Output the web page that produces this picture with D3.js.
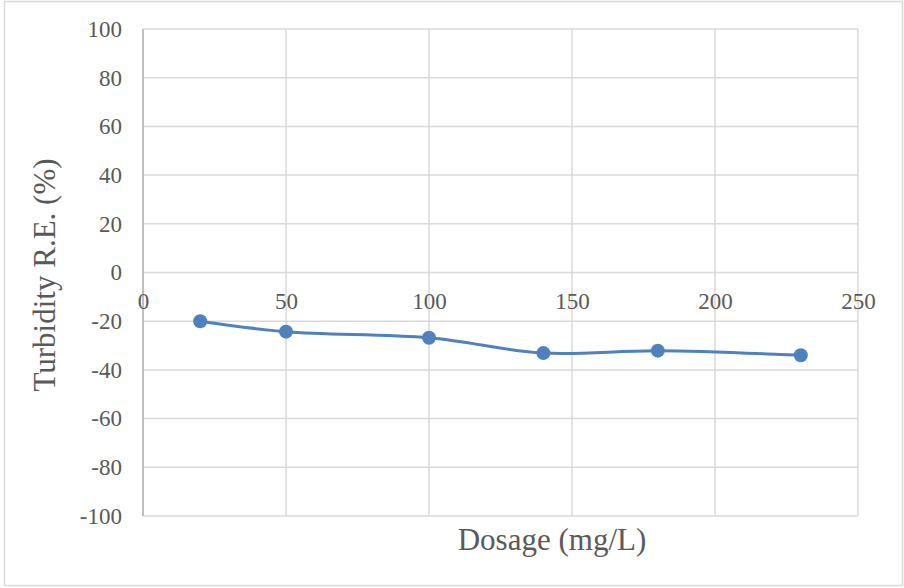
<!DOCTYPE html>
<html>
<head>
<meta charset="utf-8">
<script src="https://cdn.jsdelivr.net/npm/d3@7"></script>
<style>
  body { margin: 0; background: #fff; }
  text { font-family: "Liberation Serif", "DejaVu Serif", serif; fill: #595959; }
</style>
</head>
<body>
<script>
// Data
const dosage = [20, 50, 100, 140, 180, 230];
const removal = [-20, -24.3, -26.8, -33.1, -32.1, -34];
const xTicks = [0, 50, 100, 150, 200, 250];
const yTicks = [-100, -80, -60, -40, -20, 0, 20, 40, 60, 80, 100];

const W = 904, H = 588;
const margin = { top: 29, right: 46, bottom: 72, left: 143 };
const width = W - margin.left - margin.right;
const height = H - margin.top - margin.bottom;

const svg = d3.select("body")
    .append("svg")
    .attr("width", W)
    .attr("height", H);

// Outer chart border
svg.append("rect")
    .attr("x", 4.5)
    .attr("y", 1.5)
    .attr("width", W - 6)
    .attr("height", 584)
    .attr("fill", "#fff")
    .attr("stroke", "#d9d9d9")
    .attr("stroke-width", 1.5);

const g = svg.append("g")
    .attr("transform", `translate(${margin.left},${margin.top})`);

const x = d3.scaleLinear().domain([0, 250]).range([0, width]);
const y = d3.scaleLinear().domain([-100, 100]).range([height, 0]);

// Gridlines
g.append("g")
    .selectAll("line")
    .data(yTicks)
    .enter()
    .append("line")
    .attr("x1", 0)
    .attr("x2", width)
    .attr("y1", d => y(d))
    .attr("y2", d => y(d))
    .attr("stroke", "#d9d9d9")
    .attr("stroke-width", 1.5);

g.append("g")
    .selectAll("line")
    .data(xTicks.slice(1))
    .enter()
    .append("line")
    .attr("x1", d => x(d))
    .attr("x2", d => x(d))
    .attr("y1", 0)
    .attr("y2", height)
    .attr("stroke", "#d9d9d9")
    .attr("stroke-width", 1.5);

// Vertical axis line at x = 0
g.append("line")
    .attr("x1", x(0))
    .attr("x2", x(0))
    .attr("y1", 0)
    .attr("y2", height)
    .attr("stroke", "#bfbfbf")
    .attr("stroke-width", 2);

// plain hyphen for negatives, like the original
const fmt = d => String(d);

// Y axis labels
const yAxis = d3.axisLeft(y).tickValues(yTicks).tickFormat(fmt).tickSize(0).tickPadding(21);
g.append("g")
    .call(yAxis)
    .call(a => a.select(".domain").remove())
    .selectAll("text")
    .style("font-size", "23px")
    .style("fill", "#595959")
    .style("font-family", "'Liberation Serif', serif");

// X axis labels sit along the zero line
const xAxis = d3.axisBottom(x).tickValues(xTicks).tickFormat(fmt).tickSize(0).tickPadding(0);
g.append("g")
    .attr("transform", `translate(0,${y(0)})`)
    .call(xAxis)
    .call(a => a.select(".domain").remove())
    .selectAll("text")
    .attr("dy", null)
    .attr("y", 36)
    .style("font-size", "23px")
    .style("fill", "#595959")
    .style("font-family", "'Liberation Serif', serif");

// Series line
const pts = dosage.map((d, i) => [d, removal[i]]);
const line = d3.line()
    .x(d => x(d[0]))
    .y(d => y(d[1]))
    .curve(d3.curveCatmullRom.alpha(0.5));

g.append("path")
    .datum(pts)
    .attr("fill", "none")
    .attr("stroke", "#4f81bd")
    .attr("stroke-width", 3)
    .attr("d", line);

g.selectAll(".dot")
    .data(pts)
    .enter()
    .append("circle")
    .attr("class", "dot")
    .attr("r", 7)
    .attr("cx", d => x(d[0]))
    .attr("cy", d => y(d[1]))
    .attr("fill", "#4f81bd");

// Axis titles
svg.append("text")
    .attr("x", 552)
    .attr("y", 550)
    .attr("text-anchor", "middle")
    .style("font-size", "31px")
    .text("Dosage (mg/L)");

svg.append("text")
    .attr("transform", "translate(55,275) rotate(-90)")
    .attr("text-anchor", "middle")
    .style("font-size", "31px")
    .text("Turbidity R.E. (%)");
</script>
</body>
</html>
